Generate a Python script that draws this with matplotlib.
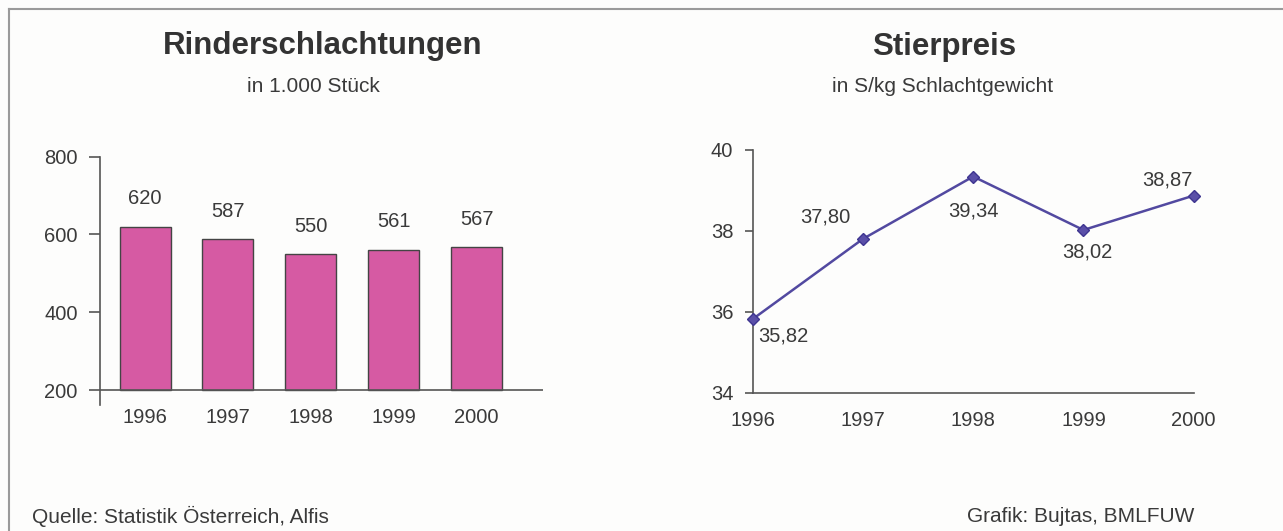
import matplotlib.pyplot as plt
from matplotlib.lines import Line2D

plt.rcParams['font.family'] = ['Liberation Sans', 'DejaVu Sans']

# daten
jahre = ["1996", "1997", "1998", "1999", "2000"]
schlachtungen = [620, 587, 550, 561, 567]
jahre_num = [1996, 1997, 1998, 1999, 2000]
stierpreis = [35.82, 37.80, 39.34, 38.02, 38.87]
preis_labels = ["35,82", "37,80", "39,34", "38,02", "38,87"]

textcol = "#3a3a3a"
axcol = "#555555"

fig = plt.figure(figsize=(12.83, 5.31), dpi=100)
fig.patch.set_facecolor("#fdfdfc")

# rahmen oben und links
fig.add_artist(Line2D([9/1283, 1], [1-9/531, 1-9/531], color="#9a9a9a", lw=1.5))
fig.add_artist(Line2D([9/1283, 9/1283], [0, 1-9/531], color="#9a9a9a", lw=1.5))

# --- links: balken
ax1 = fig.add_axes([100/1283, 1-405/531, 443/1283, (405-156.5)/531])
ax1.set_facecolor("none")
x = range(len(jahre))
ax1.bar(x, [v-200 for v in schlachtungen], bottom=200, width=0.615,
        color="#d65aa3", edgecolor="#444444", linewidth=1.0, zorder=3)
for i, v in enumerate(schlachtungen):
    ax1.annotate(str(v), (i, v), xytext=(0, 20), textcoords="offset points",
                 ha="center", va="center", fontsize=14.5, color=textcol)
ax1.set_xlim(-0.543, 4.80)
ax1.set_ylim(200 - 15/0.39, 800)
ax1.axhline(200, color=axcol, lw=1.2, zorder=4)
ax1.set_yticks([200, 400, 600, 800])
ax1.set_xticks(list(x))
ax1.set_xticklabels(jahre)
for s in ["top", "right", "bottom"]:
    ax1.spines[s].set_visible(False)
ax1.spines["left"].set_color(axcol)
ax1.spines["left"].set_linewidth(1.2)
ax1.spines["left"].set_bounds(200 - 15/0.39, 800)
ax1.tick_params(axis="y", length=8, width=1.2, color=axcol, labelsize=14.5,
                labelcolor=textcol, pad=8)
ax1.tick_params(axis="x", length=0, labelsize=14.5, labelcolor=textcol, pad=2)

fig.text(323/1283, 1-46/531, "Rinderschlachtungen", ha="center", va="center",
         fontsize=22.5, fontweight="bold", color="#333333")
fig.text(313/1283, 1-87/531, "in 1.000 Stück", ha="center", va="center",
         fontsize=15, color=textcol)

# --- rechts: linie
ax2 = fig.add_axes([752.7/1283, 1-392.8/531, 441/1283, 243/531])
ax2.set_facecolor("none")
ax2.plot(jahre_num, stierpreis, color="#5249a0", lw=1.8, marker="D",
         markersize=6, markerfacecolor="#5a4fa8", markeredgecolor="#3e3590",
         clip_on=False, zorder=3)
offs = [(22, -12), (-27, 16), (0, -25), (3, -16), (-19, 11)]
for xx, yy, lab, o in zip(jahre_num, stierpreis, preis_labels, offs):
    ax2.annotate(lab, (xx, yy), xytext=o, textcoords="offset points",
                 ha="center", va="center", fontsize=14.5, color=textcol)
ax2.set_xlim(1996, 2000)
ax2.set_ylim(34, 40)
ax2.set_yticks([34, 36, 38, 40])
ax2.set_xticks(jahre_num)
ax2.set_xticklabels(jahre)
for s in ["top", "right"]:
    ax2.spines[s].set_visible(False)
for s in ["left", "bottom"]:
    ax2.spines[s].set_color(axcol)
    ax2.spines[s].set_linewidth(1.2)
ax2.tick_params(axis="y", length=6, width=1.2, color=axcol, labelsize=14.5,
                labelcolor=textcol, pad=8)
ax2.tick_params(axis="x", length=0, labelsize=14.5, labelcolor=textcol, pad=13)

fig.text(944/1283, 1-47/531, "Stierpreis", ha="center", va="center",
         fontsize=22.5, fontweight="bold", color="#333333")
fig.text(943/1283, 1-87/531, "in S/kg Schlachtgewicht", ha="center", va="center",
         fontsize=15, color=textcol)

fig.text(32/1283, 1-516/531, "Quelle: Statistik Österreich, Alfis", ha="left",
         va="center", fontsize=15, color=textcol)
fig.text(1194/1283, 1-516/531, "Grafik: Bujtas, BMLFUW", ha="right",
         va="center", fontsize=15, color=textcol)

fig.savefig("out.png", dpi=100, facecolor=fig.get_facecolor())
